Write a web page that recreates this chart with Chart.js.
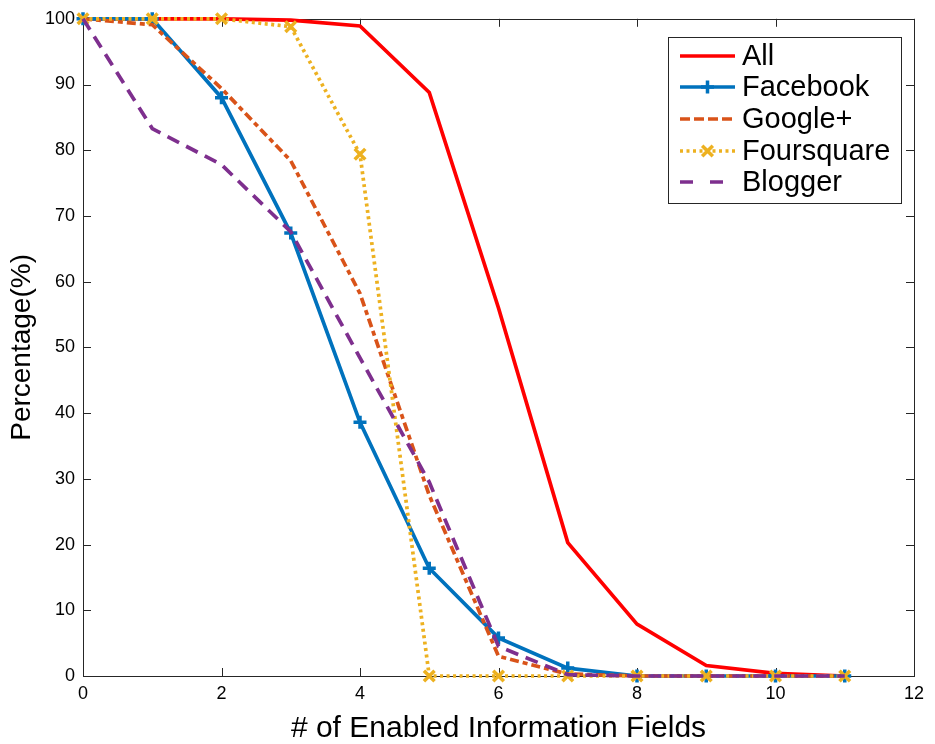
<!DOCTYPE html>
<html><head><meta charset="utf-8">
<script src="https://cdn.jsdelivr.net/npm/chart.js@4/dist/chart.umd.min.js"></script>
<style>html,body{margin:0;padding:0;background:#fff;}#wrap{width:935px;height:744px;}</style>
</head><body><div id="wrap"><canvas id="c" width="935" height="744"></canvas></div>
<script>
const fields = [0,1,2,3,4,5,6,7,8,9,10,11];
const seriesNames = ['All','Facebook','Google+','Foursquare','Blogger'];
const allValues        = [100,100,100,99.8,98.9,88.8,56,20.3,7.9,1.6,0.4,0];
const facebookValues   = [100,100,88,67.4,38.6,16.4,5.8,1.2,0,0,0,0];
const googleValues     = [100,99.1,89.4,78.4,58.2,27.5,3,0.3,0,0,0,0];
const foursquareValues = [100,100,100,98.8,79.4,0,0,0,0,0,0,0];
const bloggerValues    = [100,83.3,77.8,67.6,48.4,29.5,4.5,0.2,0,0,0,0];
const xTickValues = [0,2,4,6,8,10,12];
const yTickValues = [0,10,20,30,40,50,60,70,80,90,100];
const xTitle = '# of Enabled Information Fields';
const yTitle = 'Percentage(%)';

const FONT = "'Liberation Sans', Arial, Helvetica, sans-serif";
const AX = '#262626';
const pts = v => fields.map((x,i)=>({x, y:v[i]}));

const styles = [
  {color:'#FF0000', dash:[], legendDash:[], point:false, order:5},
  {color:'#0072BD', dash:[], legendDash:[], point:'cross', radius:6.5, order:4},
  {color:'#D95319', dash:[9,4,5,4], legendDash:[10,4], point:false, order:3},
  {color:'#EDB120', dash:[3,3.5], legendDash:[3,3.5], point:'crossRot', radius:7.5, order:2},
  {color:'#7E2F8E', dash:[13,8], legendDash:[13,17], point:false, order:1}
];
const valueSets = [allValues, facebookValues, googleValues, foursquareValues, bloggerValues];

const datasets = seriesNames.map((name,i)=>{
  const s = styles[i];
  return {
    label: name,
    data: pts(valueSets[i]),
    borderColor: s.color,
    backgroundColor: s.color,
    borderWidth: 3.7,
    borderDash: s.dash,
    borderCapStyle: 'butt',
    borderJoinStyle: 'miter',
    pointStyle: s.point || 'circle',
    pointRadius: s.point ? s.radius : 0,
    pointHoverRadius: s.point ? s.radius : 0,
    pointBorderWidth: 3.5,
    pointBorderColor: s.color,
    pointBackgroundColor: s.color,
    tension: 0,
    clip: false,
    order: s.order
  };
});

const frame = {
  id: 'frame',
  beforeDatasetsDraw(chart){
    const {ctx, chartArea:a, scales:{x, y}} = chart;
    ctx.save();
    ctx.strokeStyle = AX; ctx.lineWidth = 1;
    ctx.strokeRect(Math.round(a.left)+0.5, Math.round(a.top)+0.5, Math.round(a.right-a.left), Math.round(a.bottom-a.top));
    const L = 8;
    ctx.beginPath();
    xTickValues.forEach(v=>{
      const px = Math.round(x.getPixelForValue(v))+0.5;
      ctx.moveTo(px, a.bottom); ctx.lineTo(px, a.bottom-L);
      ctx.moveTo(px, a.top); ctx.lineTo(px, a.top+L);
    });
    yTickValues.forEach(v=>{
      const py = Math.round(y.getPixelForValue(v))+0.5;
      ctx.moveTo(a.left, py); ctx.lineTo(a.left+L, py);
      ctx.moveTo(a.right, py); ctx.lineTo(a.right-L, py);
    });
    ctx.stroke();
    ctx.restore();
  }
};

const legendBox = {
  id: 'legendBox',
  afterDraw(chart){
    const ctx = chart.ctx;
    ctx.save();
    const bx = 668.5, by = 37.5, bw = 233, bh = 166;
    ctx.fillStyle = '#fff'; ctx.fillRect(bx,by,bw,bh);
    ctx.strokeStyle = AX; ctx.lineWidth = 1; ctx.strokeRect(bx,by,bw,bh);
    const rows = [56, 87, 119, 151, 182];
    chart.data.datasets.forEach((ds,i)=>{
      const s = styles[i], yy = rows[i];
      ctx.strokeStyle = s.color; ctx.lineWidth = 3.7; ctx.lineCap = 'butt';
      ctx.setLineDash(s.legendDash);
      ctx.beginPath(); ctx.moveTo(680, yy); ctx.lineTo(735, yy); ctx.stroke();
      ctx.setLineDash([]);
      if (s.point) {
        ctx.lineWidth = 3.5;
        Chart.helpers.drawPoint(ctx, {pointStyle: s.point, radius: s.radius, borderWidth: 3.5}, 707.5, yy);
      }
      ctx.fillStyle = '#000';
      ctx.font = `29px ${FONT}`;
      ctx.textBaseline = 'middle'; ctx.textAlign = 'left';
      ctx.fillText(ds.label, 742, yy+1);
    });
    ctx.restore();
  }
};

new Chart(document.getElementById('c'), {
  type: 'line',
  data: {datasets},
  options: {
    responsive: false,
    animation: false,
    devicePixelRatio: 1,
    layout: {padding: {top: 17, right: 21, left: 0, bottom: 0}},
    plugins: {legend: {display: false}, tooltip: {enabled: false}},
    scales: {
      x: {
        type: 'linear', min: 0, max: 12,
        afterBuildTicks: s => { s.ticks = xTickValues.map(v=>({value:v})); },
        afterFit: s => { s.height = 68; },
        grid: {display: false, drawTicks: false},
        border: {display: false},
        ticks: {color: '#000', padding: 7, font: {family: FONT, size: 18}, maxRotation: 0, autoSkip: false},
        title: {display: true, text: xTitle, color: '#000', font: {family: FONT, size: 30, lineHeight: 1}, padding: {top: 0, bottom: 0}}
      },
      y: {
        type: 'linear', min: 0, max: 100,
        afterBuildTicks: s => { s.ticks = yTickValues.map(v=>({value:v})); },
        afterFit: s => { s.width = 83; },
        grid: {display: false, drawTicks: false},
        border: {display: false},
        ticks: {color: '#000', padding: 8, font: {family: FONT, size: 18}, autoSkip: false},
        title: {display: true, text: yTitle, color: '#000', font: {family: FONT, size: 28, lineHeight: 1}, padding: {top: 8, bottom: 0}}
      }
    }
  },
  plugins: [frame, legendBox]
});
</script></body></html>
